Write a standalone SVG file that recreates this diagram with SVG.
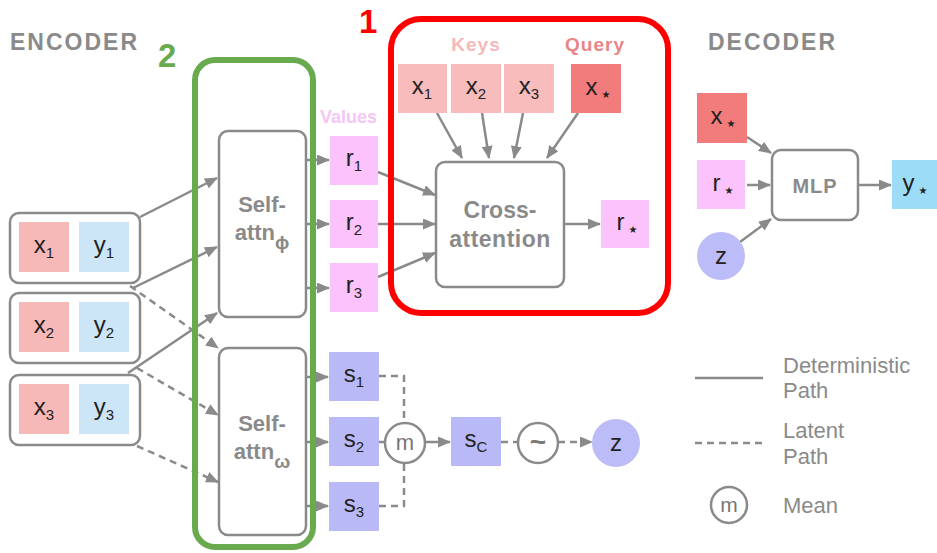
<svg xmlns="http://www.w3.org/2000/svg" width="937" height="553" viewBox="0 0 937 553">
<defs>
<marker id="ah" markerUnits="userSpaceOnUse" markerWidth="13" markerHeight="11" viewBox="0 0 13 11" refX="12" refY="5.5" orient="auto">
<path d="M0,0 L13,5.5 L0,11 z" fill="#8a8a8a"/>
</marker>
<style>
.box{fill:#fff;stroke:#8a8a8a;stroke-width:2.5}
.ln{fill:none;stroke:#8a8a8a;stroke-width:2.5}
.ar{fill:none;stroke:#8a8a8a;stroke-width:2.5;marker-end:url(#ah)}
.da{stroke-dasharray:7 5}
.t{font-family:"Liberation Sans",Arial,sans-serif;font-size:24px;fill:#222;text-anchor:middle}
.sub{font-size:15px}
.star{font-family:"DejaVu Sans",sans-serif;font-size:10px}
.lbl{font-family:"Liberation Sans",Arial,sans-serif;font-weight:bold;fill:#8a8a8a;text-anchor:middle}
.leg{font-family:"Liberation Sans",Arial,sans-serif;font-size:22px;fill:#8a8a8a}
.pk{fill:#f7b8b8}.bl{fill:#cce6f8}.ky{fill:#f8bcbc}.qy{fill:#f27c7c}.rv{fill:#fbc2fb}.sv{fill:#b9b9f7}.yb{fill:#9ddcf7}
</style>
</defs>
<rect width="937" height="553" fill="#fff"/>

<!-- titles -->
<text x="10" y="50" class="lbl" style="text-anchor:start;font-size:23px;letter-spacing:2px">ENCODER</text>
<text x="708" y="50" class="lbl" style="text-anchor:start;font-size:23px;letter-spacing:2px">DECODER</text>
<text x="320" y="123" class="lbl" style="text-anchor:start;font-size:18px;fill:#f5c6f5">Values</text>
<text x="476" y="51" class="lbl" style="font-size:19px;fill:#f6b9b9;letter-spacing:1px">Keys</text>
<text x="595" y="51" class="lbl" style="font-size:19px;fill:#ea8585;letter-spacing:1px">Query</text>

<!-- connectors -->
<g id="connectors">
<line class="ar" x1="140" y1="217" x2="217" y2="178"/>
<line class="ar" x1="133" y1="288" x2="217" y2="247"/>
<line class="ar" x1="128" y1="373" x2="217" y2="313"/>
<line class="ar da" x1="130" y1="286" x2="218" y2="348"/>
<line class="ar da" x1="137" y1="368" x2="218" y2="415"/>
<line class="ar da" x1="137" y1="446" x2="218" y2="482"/>
<line class="ar" x1="306" y1="160" x2="329" y2="160"/>
<line class="ar" x1="306" y1="224" x2="329" y2="224"/>
<line class="ar" x1="306" y1="288" x2="329" y2="288"/>
<line class="ar" x1="306" y1="377" x2="328" y2="377"/>
<line class="ar" x1="306" y1="442" x2="328" y2="442"/>
<line class="ar" x1="306" y1="506" x2="328" y2="506"/>
<line class="ar" x1="378" y1="172" x2="435" y2="195"/>
<line class="ar" x1="378" y1="224" x2="435" y2="224"/>
<line class="ar" x1="378" y1="277" x2="435" y2="253"/>
<line class="ar" x1="437" y1="113" x2="462" y2="158"/>
<line class="ar" x1="482" y1="113" x2="489" y2="158"/>
<line class="ar" x1="523" y1="113" x2="514" y2="158"/>
<line class="ar" x1="578" y1="113" x2="547" y2="158"/>
<line class="ar" x1="564" y1="224" x2="600" y2="224"/>
<path class="ln da" d="M379,376 H404 V423"/>
<path class="ln da" d="M379,506 H404 V463"/>
<line class="ln" x1="379" y1="442" x2="385" y2="442"/>
<line class="ar" x1="425" y1="442" x2="450" y2="442"/>
<line class="ln da" x1="501" y1="442" x2="518" y2="442"/>
<line class="ar da" x1="558" y1="442" x2="592" y2="442"/>
<line class="ar" x1="747" y1="137" x2="771" y2="153"/>
<line class="ar" x1="747" y1="185" x2="770" y2="185"/>
<line class="ar" x1="740" y1="242" x2="771" y2="219"/>
<line class="ar" x1="858" y1="185" x2="891" y2="185"/>
</g>

<!-- encoder context pairs -->
<g id="pair1">
<rect class="box" x="10" y="213" width="130" height="70" rx="9"/>
<rect class="pk" x="19" y="222" width="50" height="50"/>
<rect class="bl" x="79" y="222" width="50" height="50"/>
<text class="t" x="44" y="253">x<tspan class="sub" dy="5">1</tspan></text>
<text class="t" x="104" y="253">y<tspan class="sub" dy="5">1</tspan></text>
</g>
<g id="pair2">
<rect class="box" x="10" y="293" width="130" height="70" rx="9"/>
<rect class="pk" x="19" y="302" width="50" height="50"/>
<rect class="bl" x="79" y="302" width="50" height="50"/>
<text class="t" x="44" y="333">x<tspan class="sub" dy="5">2</tspan></text>
<text class="t" x="104" y="333">y<tspan class="sub" dy="5">2</tspan></text>
</g>
<g id="pair3">
<rect class="box" x="10" y="375" width="130" height="70" rx="9"/>
<rect class="pk" x="19" y="384" width="50" height="50"/>
<rect class="bl" x="79" y="384" width="50" height="50"/>
<text class="t" x="44" y="415">x<tspan class="sub" dy="5">3</tspan></text>
<text class="t" x="104" y="415">y<tspan class="sub" dy="5">3</tspan></text>
</g>

<!-- self attention -->
<g id="selfattn-phi">
<rect class="box" x="219" y="131" width="87" height="186" rx="9"/>
<text class="lbl" x="262" y="212" style="font-size:22px">Self-</text>
<text class="lbl" x="262" y="240" style="font-size:22px">attn<tspan dy="9" style="font-size:19px">ϕ</tspan></text>
</g>
<g id="selfattn-omega">
<rect class="box" x="219" y="348" width="87" height="187" rx="9"/>
<text class="lbl" x="262" y="431" style="font-size:22px">Self-</text>
<text class="lbl" x="262" y="459" style="font-size:22px">attn<tspan dy="9" style="font-size:19px">ω</tspan></text>
</g>

<!-- values -->
<g id="r1"><rect class="rv" x="330" y="136" width="48" height="49"/><text class="t" x="354" y="166">r<tspan class="sub" dy="5">1</tspan></text></g>
<g id="r2"><rect class="rv" x="330" y="200" width="48" height="48"/><text class="t" x="354" y="230">r<tspan class="sub" dy="5">2</tspan></text></g>
<g id="r3"><rect class="rv" x="330" y="263" width="48" height="49"/><text class="t" x="354" y="293">r<tspan class="sub" dy="5">3</tspan></text></g>

<!-- latent -->
<g id="s1"><rect class="sv" x="329" y="352" width="50" height="49"/><text class="t" x="354" y="382">s<tspan class="sub" dy="5">1</tspan></text></g>
<g id="s2"><rect class="sv" x="329" y="417" width="50" height="49"/><text class="t" x="354" y="447">s<tspan class="sub" dy="5">2</tspan></text></g>
<g id="s3"><rect class="sv" x="329" y="482" width="50" height="49"/><text class="t" x="354" y="512">s<tspan class="sub" dy="5">3</tspan></text></g>
<g id="mean"><circle class="box" cx="405" cy="443" r="20"/><text class="t" x="405" y="450" style="fill:#777;font-size:22px">m</text></g>
<g id="sC"><rect class="sv" x="451" y="417" width="50" height="49"/><text class="t" x="476" y="447">s<tspan class="sub" dy="5">C</tspan></text></g>
<g id="sample"><circle class="box" cx="538" cy="443" r="20"/><text class="t" x="538" y="451" style="fill:#777;font-size:28px;font-weight:bold">~</text></g>
<g id="z-enc"><circle fill="#bcbcf8" cx="616" cy="443" r="24"/><text class="t" x="616" y="451">z</text></g>

<!-- cross attention -->
<g id="k1"><rect class="ky" x="398" y="64" width="49" height="49"/><text class="t" x="422" y="94">x<tspan class="sub" dy="5">1</tspan></text></g>
<g id="k2"><rect class="ky" x="451" y="64" width="50" height="49"/><text class="t" x="476" y="94">x<tspan class="sub" dy="5">2</tspan></text></g>
<g id="k3"><rect class="ky" x="504" y="64" width="50" height="49"/><text class="t" x="529" y="94">x<tspan class="sub" dy="5">3</tspan></text></g>
<g id="query"><rect class="qy" x="571" y="64" width="50" height="49"/><text class="t" x="598" y="95">x<tspan class="star" dx="4" dy="3">★</tspan></text></g>
<g id="cross-attention">
<rect class="box" x="436" y="162" width="128" height="125" rx="9"/>
<text class="lbl" x="500" y="218" style="font-size:23px">Cross-</text>
<text class="lbl" x="500" y="247" style="font-size:23px;letter-spacing:0.5px">attention</text>
</g>
<g id="rstar"><rect class="rv" x="601" y="200" width="48" height="48"/><text class="t" x="627" y="230">r<tspan class="star" dx="4" dy="3">★</tspan></text></g>

<!-- decoder -->
<g id="dec-x"><rect class="qy" x="697" y="93" width="50" height="50"/><text class="t" x="723" y="124">x<tspan class="star" dx="4" dy="3">★</tspan></text></g>
<g id="dec-r"><rect class="rv" x="697" y="160" width="48" height="49"/><text class="t" x="723" y="191">r<tspan class="star" dx="4" dy="3">★</tspan></text></g>
<g id="dec-z"><circle fill="#bcbcf8" cx="721" cy="256" r="24"/><text class="t" x="721" y="264">z</text></g>
<g id="mlp"><rect class="box" x="772" y="150" width="86" height="70" rx="9"/><text class="lbl" x="815" y="193" style="font-size:20px;letter-spacing:1px">MLP</text></g>
<g id="ystar"><rect class="yb" x="892" y="160" width="50" height="49"/><text class="t" x="915" y="191">y<tspan class="star" dx="4" dy="3">★</tspan></text></g>

<!-- highlight boxes -->
<g id="highlight-2">
<rect x="195" y="60" width="118" height="487" rx="20" fill="none" stroke="#6aaa4f" stroke-width="6"/>
<text x="158" y="67" style="font-family:'Liberation Sans',Arial,sans-serif;font-weight:bold;font-size:33px;fill:#6aaa4f">2</text>
</g>
<g id="highlight-1">
<rect x="391" y="19" width="277" height="294" rx="30" fill="none" stroke="#ff0000" stroke-width="6"/>
<text x="359" y="33" style="font-family:'Liberation Sans',Arial,sans-serif;font-weight:bold;font-size:33px;fill:#ff0000">1</text>
</g>

<!-- legend -->
<g id="legend">
<line class="ln" x1="695" y1="378" x2="763" y2="378"/>
<text class="leg" x="783" y="373">Deterministic</text>
<text class="leg" x="783" y="398">Path</text>
<line class="ln da" x1="695" y1="443" x2="763" y2="443"/>
<text class="leg" x="783" y="438">Latent</text>
<text class="leg" x="783" y="464">Path</text>
<circle class="box" cx="729" cy="505" r="18"/>
<text class="t" x="729" y="512" style="fill:#777;font-size:21px">m</text>
<text class="leg" x="783" y="513">Mean</text>
</g>
</svg>
